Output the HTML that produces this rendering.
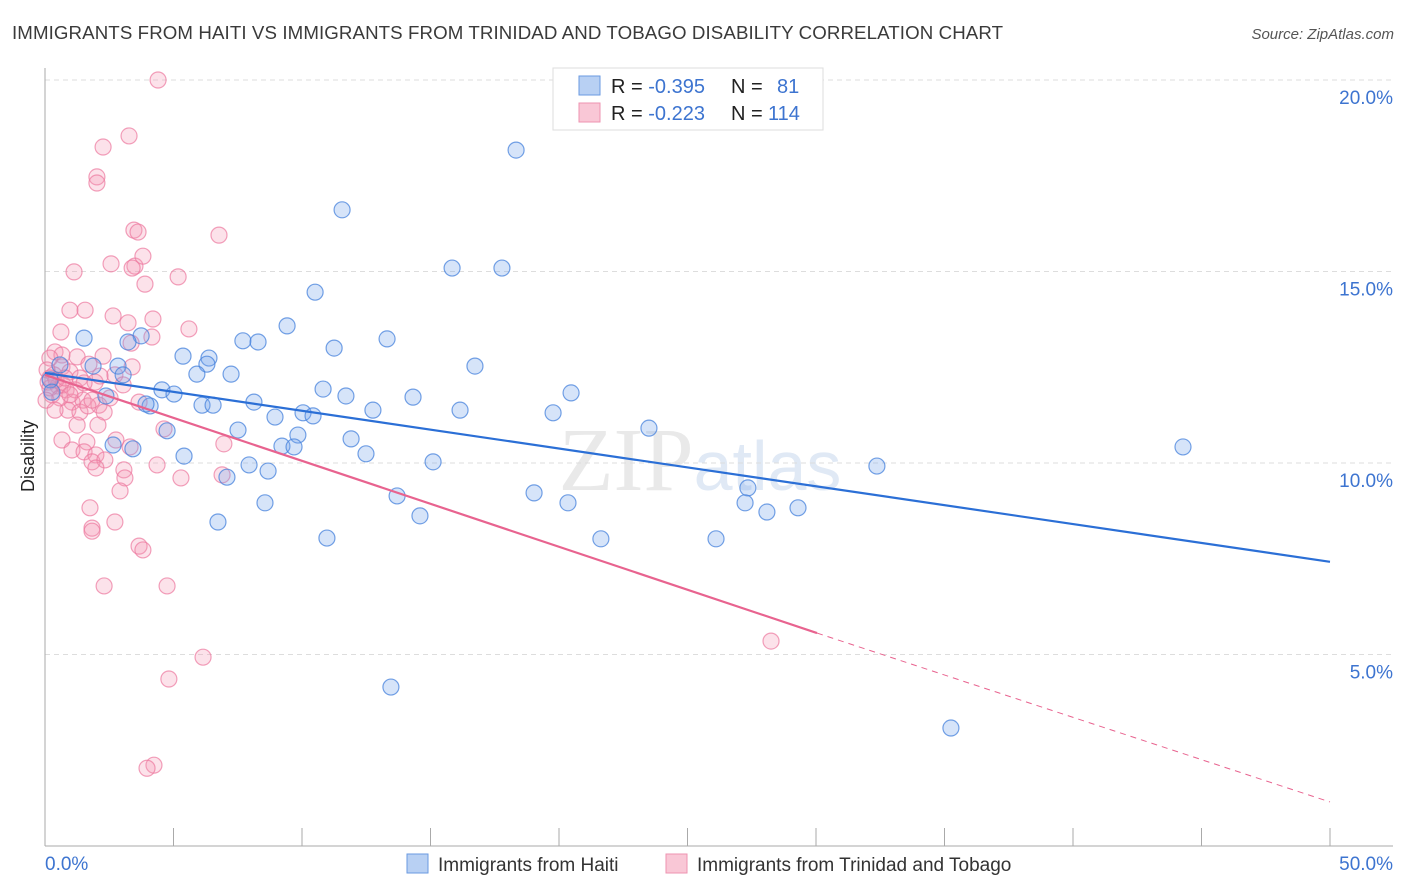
<!DOCTYPE html>
<html><head><meta charset="utf-8"><style>
body{margin:0;background:#fff;font-family:"Liberation Sans",sans-serif;}
svg{display:block}
</style></head><body>
<svg id="chart" width="1406" height="892">
<text x="12" y="39" font-size="18.7" fill="#3a3a3a" letter-spacing="0.1">IMMIGRANTS FROM HAITI VS IMMIGRANTS FROM TRINIDAD AND TOBAGO DISABILITY CORRELATION CHART</text>
<text x="1394" y="39" font-size="15" fill="#555" text-anchor="end" font-style="italic">Source: ZipAtlas.com</text>
<text x="34" y="456" font-size="18" fill="#222" text-anchor="middle" transform="rotate(-90 34 456)">Disability</text>
<text x="700" y="490" font-size="90" fill="#e9e9e9" text-anchor="middle" font-family="Liberation Serif,serif">ZIP<tspan fill="#e0e9f5" font-family="Liberation Sans,sans-serif" font-size="70">atlas</tspan></text>
<g id="grid"></g><g id="axes"></g><g id="pts"></g><g id="lines"></g>
<g>
<rect x="553" y="68" width="270" height="62" fill="#fff" stroke="#ddd"/>
<rect x="579" y="76" width="21" height="19" fill="#b8d0f3" stroke="#6a9ae0"/>
<rect x="579" y="103" width="21" height="19" fill="#f9c7d6" stroke="#ee93b0"/>
<text x="611" y="93" font-size="20" fill="#222">R = <tspan fill="#3d74d0">-0.395</tspan><tspan x="731">N = </tspan><tspan x="777" fill="#3d74d0">81</tspan></text>
<text x="611" y="120" font-size="20" fill="#222">R = <tspan fill="#3d74d0">-0.223</tspan><tspan x="731">N = </tspan><tspan x="768" fill="#3d74d0">114</tspan></text>
</g>
<g>
<rect x="407" y="854" width="21" height="19" fill="#b8d0f3" stroke="#6a9ae0"/>
<text x="438" y="871" font-size="19" fill="#333">Immigrants from Haiti</text>
<rect x="666" y="854" width="21" height="19" fill="#f9c7d6" stroke="#ee93b0"/>
<text x="697" y="871" font-size="19" fill="#333">Immigrants from Trinidad and Tobago</text>
</g>
</svg>
<script>
const haitiX=[18.33,11.56,15.84,17.78,10.51,9.42,1.52,3.74,3.23,7.70,8.29,13.31,11.25,5.37,6.38,16.73,2.84,6.30,5.91,7.24,0.58,3.04,1.87,4.55,5.02,10.82,11.71,20.47,14.32,2.37,4.09,3.93,6.11,6.54,8.13,12.76,16.15,19.77,10.04,10.43,8.95,4.75,7.51,9.84,11.91,23.50,44.28,2.65,3.42,5.41,9.22,9.69,12.49,15.10,7.94,8.68,7.08,32.37,19.03,13.70,20.35,8.56,27.35,27.24,28.09,29.30,14.59,6.73,10.97,21.63,26.11,13.46,35.25,0.2,0.27];
const haitiY=[18.17,16.61,15.09,15.09,14.46,13.58,13.26,13.32,13.16,13.19,13.16,13.24,13.0,12.79,12.74,12.53,12.53,12.58,12.32,12.32,12.56,12.30,12.53,11.91,11.80,11.93,11.75,11.83,11.72,11.75,11.49,11.54,11.51,11.51,11.59,11.38,11.38,11.31,11.31,11.23,11.20,10.84,10.86,10.73,10.63,10.91,10.42,10.47,10.37,10.18,10.44,10.42,10.24,10.03,9.95,9.79,9.63,9.92,9.22,9.14,8.96,8.96,9.35,8.96,8.72,8.83,8.62,8.46,8.04,8.02,8.02,4.15,3.08,12.17,11.85];
const trinX=[4.40,3.27,2.26,2.02,2.02,3.46,3.62,6.77,2.57,3.50,3.39,3.81,1.13,5.18,3.89,0.97,1.56,2.65,4.20,3.23,5.60,0.62,4.16,3.35,0.39,0.66,1.25,0.19,2.26,1.71,3.39,0.66,0.97,0.35,1.36,1.95,0.12,0.51,0.82,0.27,2.53,1.05,1.48,2.10,3.66,0.89,1.36,1.67,2.30,1.25,2.06,4.63,0.66,1.63,2.76,3.31,1.05,1.52,1.98,1.83,2.33,1.98,4.36,3.07,6.96,6.89,5.29,3.11,2.92,1.75,2.72,1.83,1.83,3.66,3.81,2.30,4.75,6.15,4.82,4.24,3.97,28.25,0.08,0.19,0.43,0.70,0.04,0.58,1.17,0.39,1.52,1.83,2.72,3.04,0.97,0.19,0.78,2.14];
const trinY=[20.0,18.54,18.25,17.47,17.31,16.08,16.03,15.95,15.20,15.14,15.09,15.40,14.99,14.86,14.67,13.99,13.99,13.84,13.76,13.66,13.50,13.42,13.29,13.13,12.90,12.82,12.77,12.74,12.79,12.58,12.51,12.51,12.38,12.30,12.22,12.11,12.11,12.01,11.91,11.78,11.70,11.59,11.64,11.51,11.59,11.38,11.33,11.49,11.33,10.99,10.99,10.89,10.60,10.55,10.60,10.42,10.34,10.29,10.21,10.03,10.08,9.87,9.95,9.82,10.50,9.69,9.61,9.61,9.27,8.83,8.46,8.30,8.22,7.83,7.73,6.79,6.79,4.93,4.36,2.11,2.03,5.35,12.43,11.96,12.17,12.04,11.64,11.70,11.91,11.38,12.09,11.64,12.30,12.04,11.78,12.22,12.22,12.27];
const yTicks=[5,10,15,20];
const haitiTrend=[12.35,7.42];
const trinTrend=[12.30,5.56,1.15];
const trinSolidEnd=30.04;
const NS="http://www.w3.org/2000/svg";
const sx=v=>45+v*25.7, sy=v=>846-v*38.3;
function mk(tag,attrs,parent){const e=document.createElementNS(NS,tag);for(const k in attrs)e.setAttribute(k,attrs[k]);parent.appendChild(e);return e;}
const grid=document.getElementById('grid'),axes=document.getElementById('axes'),pts=document.getElementById('pts'),lines=document.getElementById('lines');
yTicks.forEach(t=>{
 const l=mk('line',{x1:45,x2:1393,y1:sy(t),y2:sy(t),stroke:'#ddd','stroke-dasharray':'5,4'},grid);
 
 
 const tx=mk('text',{x:1393,y:sy(t)+24,'font-size':19,fill:'#3d74d0','text-anchor':'end'},grid);
 tx.textContent=t.toFixed(1)+'%';
 
 
});
mk('line',{x1:45,x2:45,y1:68,y2:846,stroke:'#aaa'},axes);
mk('line',{x1:45,x2:1393,y1:846,y2:846,stroke:'#aaa'},axes);
for(let i=0;i<=10;i++){const l=mk('line',{x1:sx(i*5),x2:sx(i*5),y1:828,y2:846,stroke:'#aaa'},axes);
 
 }
const x0=mk('text',{x:45,y:870,'font-size':19,fill:'#3d74d0'},axes);x0.textContent='0.0%';


const x1=mk('text',{x:1393,y:870,'font-size':19,fill:'#3d74d0','text-anchor':'end'},axes);x1.textContent='50.0%';


trinX.forEach((v,i)=>{const c=mk('circle',{cx:sx(v),cy:sy(trinY[i]),r:8,fill:'rgba(244,150,180,0.28)',stroke:'rgba(236,120,158,0.7)','stroke-width':1.2},pts);
 
 });
haitiX.forEach((v,i)=>{const c=mk('circle',{cx:sx(v),cy:sy(haitiY[i]),r:8,fill:'rgba(120,165,235,0.3)',stroke:'rgba(70,130,220,0.75)','stroke-width':1.2},pts);
 
 });
const hl=mk('line',{x1:sx(0),y1:sy(haitiTrend[0]),x2:sx(50),y2:sy(haitiTrend[1]),stroke:'#2b6fd6','stroke-width':2.2},lines);


const tl=mk('line',{x1:sx(0),y1:sy(trinTrend[0]),x2:sx(trinSolidEnd),y2:sy(trinTrend[1]),stroke:'#e8638f','stroke-width':2.2},lines);


const td=mk('line',{x1:sx(trinSolidEnd),y1:sy(trinTrend[1]),x2:sx(50),y2:sy(trinTrend[2]),stroke:'#e8638f','stroke-width':1,'stroke-dasharray':'6,5'},lines);


</script>
</body></html>
